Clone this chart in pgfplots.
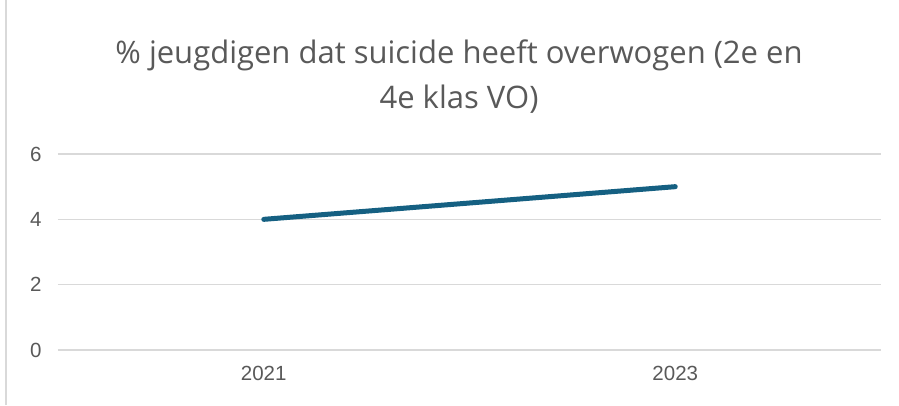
\documentclass[border=0pt]{standalone}
\usepackage{fontspec}
\setmainfont{Liberation Sans}
\newfontfamily\titlefont{Open Sans}
\usepackage{pgfplots}
\pgfplotsset{compat=1.18}
\definecolor{linecol}{RGB}{21,96,130}
\definecolor{gridcol}{RGB}{217,217,217}
\definecolor{labcol}{RGB}{89,89,89}
\begin{document}
\begin{tikzpicture}
\useasboundingbox (0pt,0pt) rectangle (899pt,405pt);
\fill[white] (0pt,0pt) rectangle (899pt,405pt);
% left chart border
\draw[gridcol, line width=1.5pt] (6pt,0pt) -- (6pt,405pt);

\begin{axis}[
    at={(58pt,55pt)}, anchor=south west,
    scale only axis,
    width=823pt, height=196pt,
    xmin=-0.5, xmax=1.5,
    ymin=0, ymax=6,
    xtick={0,1}, xticklabels={2021,2023},
    ytick={0,2,4,6},
    axis line style={draw=none},
    major tick length=0pt,
    ymajorgrids=true,
    grid style={gridcol, line width=1.6pt},
    tick label style={font=\fontsize{20.5}{22}\selectfont, text=labcol},
    /pgf/number format/assume math mode=true,
    yticklabel style={xshift=-13pt},
    xticklabel style={yshift=-13pt},
    clip=false,
]
\addplot[linecol, line width=5pt, line cap=round] coordinates {(0,4) (1,5)};
\end{axis}

\node[font=\titlefont\fontsize{31}{45}\selectfont, text=labcol, align=center]
  at (459pt,328pt) {\% jeugdigen dat suicide heeft overwogen (2e en\\4e klas VO)};
\end{tikzpicture}
\end{document}
